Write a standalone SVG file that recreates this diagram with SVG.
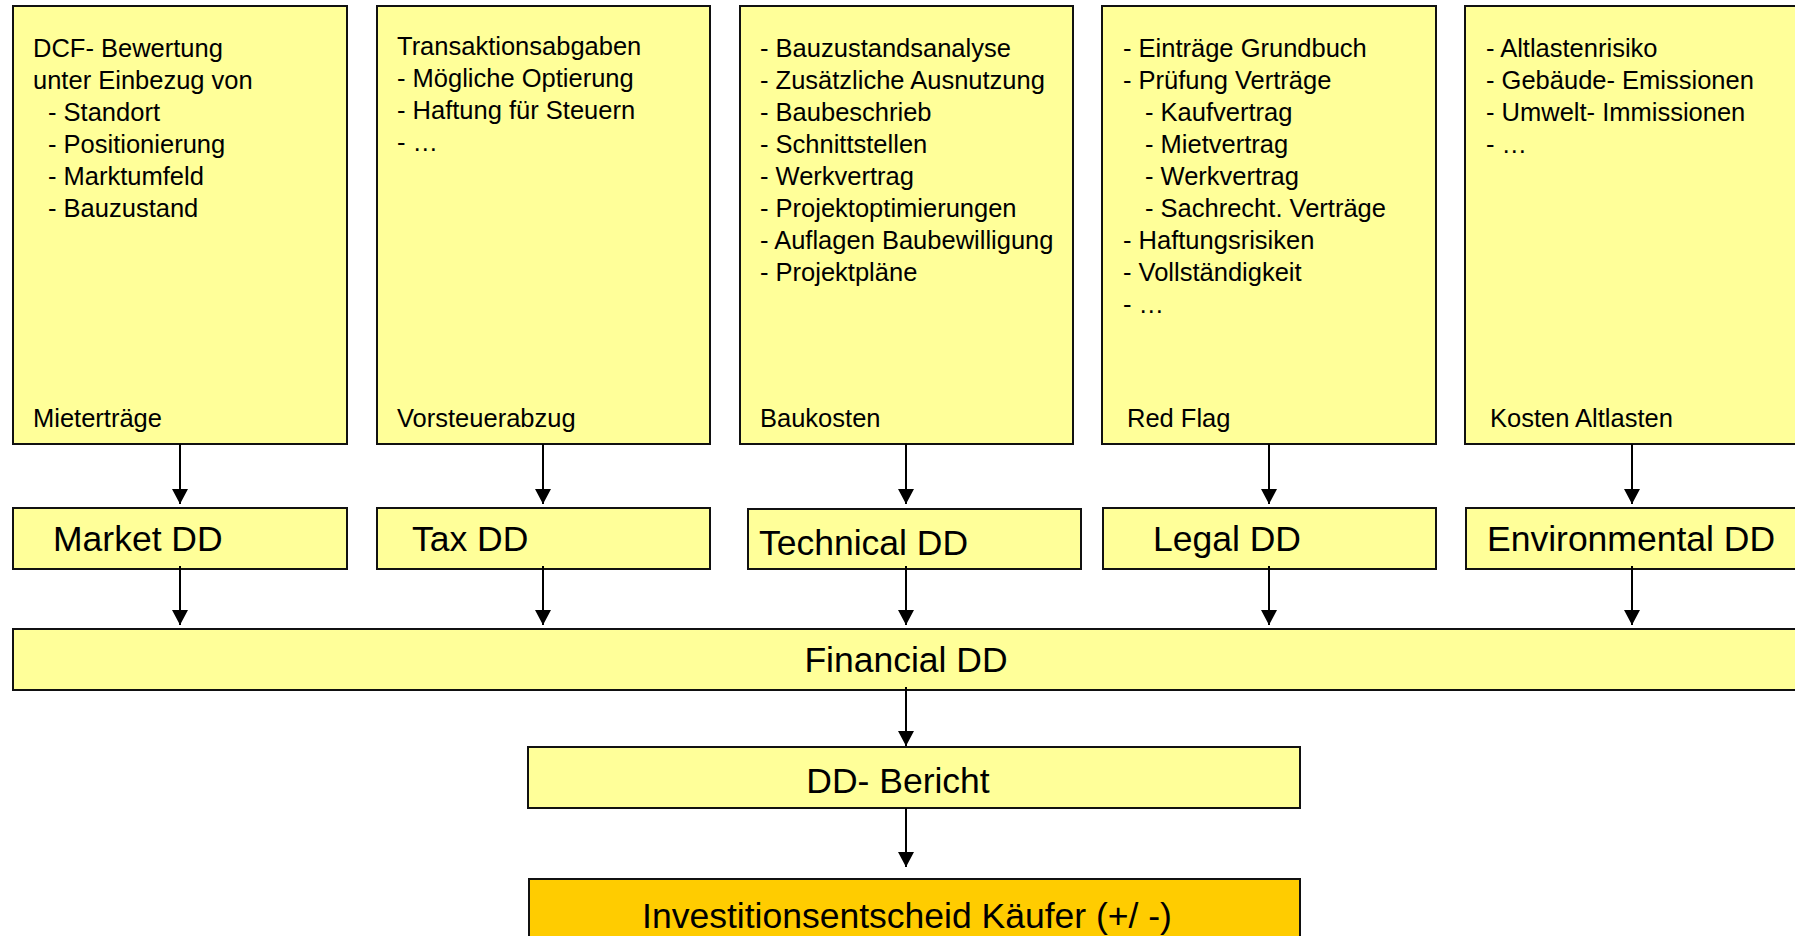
<svg xmlns="http://www.w3.org/2000/svg" width="1795" height="936" viewBox="0 0 1795 936">
<style>
.box{fill:#FFFF99;stroke:#111;stroke-width:2}
.dec{fill:#FFCC00;stroke:#111;stroke-width:2}
.t{font-family:"Liberation Sans",Arial,sans-serif;font-size:25.5px;fill:#000}
.b{font-family:"Liberation Sans",Arial,sans-serif;font-size:35.5px;fill:#000}
.c{text-anchor:middle}
.conn line{stroke:#000;stroke-width:2;marker-end:url(#arr)}
</style>
<defs>
<marker id="arr" markerUnits="userSpaceOnUse" viewBox="0 0 15 16" markerWidth="15" markerHeight="16" refX="15" refY="8" orient="auto">
<path d="M0,0 L15,8 L0,16 Z" fill="#000"/>
</marker>
</defs>
<rect width="1795" height="936" fill="#fff"/>

<g id="box-market-detail">
<rect class="box" x="13" y="6" width="334" height="438"/>
<text class="t" x="33" y="57">DCF- Bewertung</text>
<text class="t" x="33" y="89">unter Einbezug von</text>
<text class="t" x="48" y="121">- Standort</text>
<text class="t" x="48" y="153">- Positionierung</text>
<text class="t" x="48" y="185">- Marktumfeld</text>
<text class="t" x="48" y="217">- Bauzustand</text>
<text class="t" x="33" y="427">Mieterträge</text>
</g>

<g id="box-tax-detail">
<rect class="box" x="377" y="6" width="333" height="438"/>
<text class="t" x="397" y="55">Transaktionsabgaben</text>
<text class="t" x="397" y="87">- Mögliche Optierung</text>
<text class="t" x="397" y="119">- Haftung für Steuern</text>
<text class="t" x="397" y="151">- …</text>
<text class="t" x="397" y="427">Vorsteuerabzug</text>
</g>

<g id="box-technical-detail">
<rect class="box" x="740" y="6" width="333" height="438"/>
<text class="t" x="760" y="57">- Bauzustandsanalyse</text>
<text class="t" x="760" y="89">- Zusätzliche Ausnutzung</text>
<text class="t" x="760" y="121">- Baubeschrieb</text>
<text class="t" x="760" y="153">- Schnittstellen</text>
<text class="t" x="760" y="185">- Werkvertrag</text>
<text class="t" x="760" y="217">- Projektoptimierungen</text>
<text class="t" x="760" y="249">- Auflagen Baubewilligung</text>
<text class="t" x="760" y="281">- Projektpläne</text>
<text class="t" x="760" y="427">Baukosten</text>
</g>

<g id="box-legal-detail">
<rect class="box" x="1102" y="6" width="334" height="438"/>
<text class="t" x="1123" y="57">- Einträge Grundbuch</text>
<text class="t" x="1123" y="89">- Prüfung Verträge</text>
<text class="t" x="1145" y="121">- Kaufvertrag</text>
<text class="t" x="1145" y="153">- Mietvertrag</text>
<text class="t" x="1145" y="185">- Werkvertrag</text>
<text class="t" x="1145" y="217">- Sachrecht. Verträge</text>
<text class="t" x="1123" y="249">- Haftungsrisiken</text>
<text class="t" x="1123" y="281">- Vollständigkeit</text>
<text class="t" x="1123" y="313">- …</text>
<text class="t" x="1127" y="427">Red Flag</text>
</g>

<g id="box-env-detail">
<rect class="box" x="1465" y="6" width="340" height="438"/>
<text class="t" x="1486" y="57">- Altlastenrisiko</text>
<text class="t" x="1486" y="89">- Gebäude- Emissionen</text>
<text class="t" x="1486" y="121">- Umwelt- Immissionen</text>
<text class="t" x="1486" y="153">- …</text>
<text class="t" x="1490" y="427">Kosten Altlasten</text>
</g>

<g id="market-dd">
<rect class="box" x="13" y="508" width="334" height="61"/>
<text class="b" x="53" y="551">Market DD</text>
</g>
<g id="tax-dd">
<rect class="box" x="377" y="508" width="333" height="61"/>
<text class="b" x="412" y="551">Tax DD</text>
</g>
<g id="technical-dd">
<rect class="box" x="748" y="509" width="333" height="60"/>
<text class="b" x="759" y="555">Technical DD</text>
</g>
<g id="legal-dd">
<rect class="box" x="1103" y="508" width="333" height="61"/>
<text class="b" x="1153" y="551">Legal DD</text>
</g>
<g id="environmental-dd">
<rect class="box" x="1466" y="508" width="340" height="61"/>
<text class="b" x="1487" y="551">Environmental DD</text>
</g>

<g id="financial-dd">
<rect class="box" x="13" y="629" width="1793" height="61"/>
<text class="b c" x="906" y="672">Financial DD</text>
</g>

<g id="dd-bericht">
<rect class="box" x="528" y="747" width="772" height="61"/>
<text class="b c" x="898" y="793">DD- Bericht</text>
</g>

<g id="investitionsentscheid">
<rect class="dec" x="529" y="879" width="771" height="70"/>
<text class="b c" x="907" y="928">Investitionsentscheid Käufer (+/ -)</text>
</g>

<g id="connectors" class="conn">
<line x1="180" y1="444" x2="180" y2="504"/>
<line x1="543" y1="444" x2="543" y2="504"/>
<line x1="906" y1="444" x2="906" y2="504"/>
<line x1="1269" y1="444" x2="1269" y2="504"/>
<line x1="1632" y1="444" x2="1632" y2="504"/>
<line x1="180" y1="566" x2="180" y2="625"/>
<line x1="543" y1="566" x2="543" y2="625"/>
<line x1="906" y1="566" x2="906" y2="625"/>
<line x1="1269" y1="566" x2="1269" y2="625"/>
<line x1="1632" y1="566" x2="1632" y2="625"/>
<line x1="906" y1="687" x2="906" y2="746"/>
<line x1="906" y1="808" x2="906" y2="867"/>
</g>
</svg>
